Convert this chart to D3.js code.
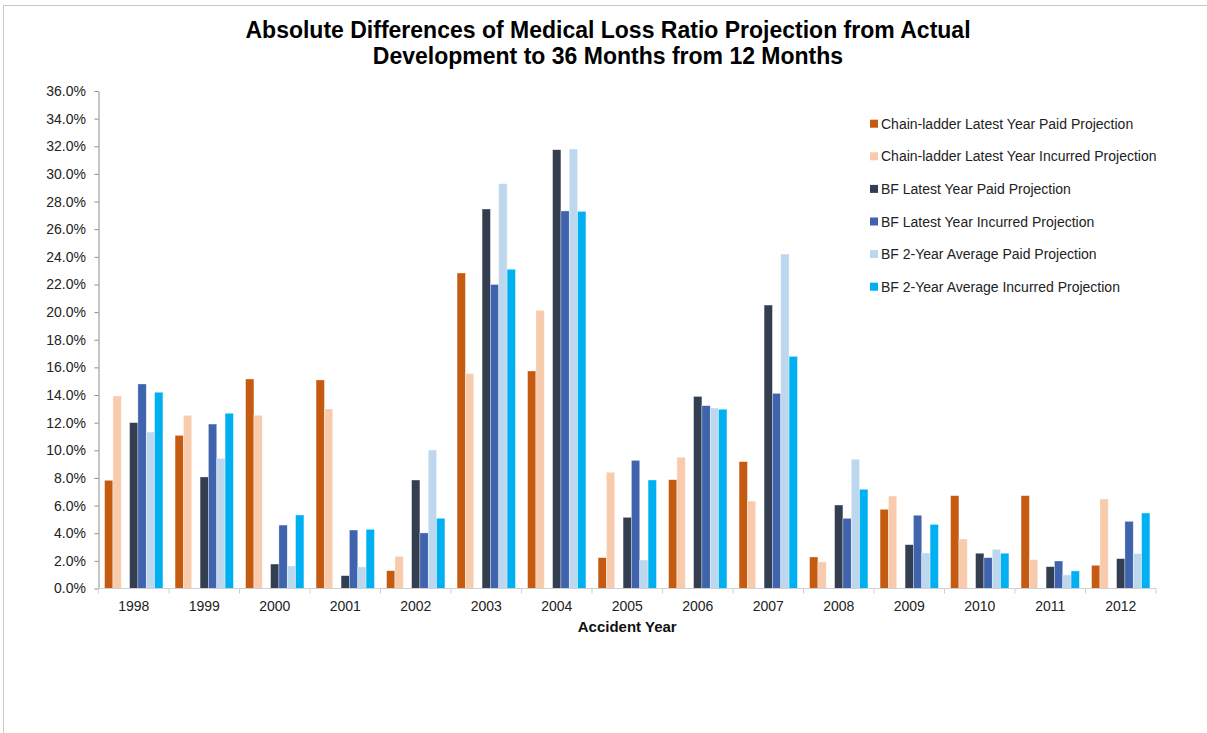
<!DOCTYPE html>
<html>
<head>
<meta charset="utf-8">
<script src="https://cdn.jsdelivr.net/npm/d3@7/dist/d3.min.js"></script>
<style>
  html, body { margin: 0; padding: 0; background: #fff; }
  svg { display: block; font-family: "Liberation Sans", Arial, sans-serif; }
</style>
</head>
<body>
<svg id="chart" width="1207" height="733"></svg>
<script>
// Accident years on the category axis
const years = ["1998","1999","2000","2001","2002","2003","2004","2005","2006","2007","2008","2009","2010","2011","2012"];

// Absolute differences (in %) for each projection method
const clPaid     = [7.83, 11.08, 15.16, 15.09, 1.29, 22.83, 15.74, 2.23, 7.87, 9.18, 2.28, 5.73, 6.72, 6.72, 1.68];
const clIncurred = [13.93, 12.53, 12.53, 12.99, 2.33, 15.55, 20.13, 8.41, 9.49, 6.33, 1.92, 6.69, 3.58, 2.09, 6.48];
const bfPaid     = [12.0, 8.07, 1.77, 0.93, 7.85, 27.46, 31.75, 5.15, 13.9, 20.51, 6.04, 3.17, 2.55, 1.58, 2.16];
const bfIncurred = [14.8, 11.9, 4.59, 4.23, 4.02, 22.0, 27.32, 9.27, 13.23, 14.12, 5.08, 5.3, 2.23, 1.99, 4.86];
const bf2Paid    = [11.32, 9.42, 1.63, 1.56, 10.02, 29.29, 31.8, 2.06, 13.06, 24.2, 9.35, 2.57, 2.84, 0.98, 2.52];
const bf2Incurred= [14.2, 12.68, 5.32, 4.28, 5.08, 23.1, 27.29, 7.85, 12.97, 16.8, 7.18, 4.64, 2.55, 1.27, 5.46];

// Y-axis tick values (percent)
const yTicks = [0,2,4,6,8,10,12,14,16,18,20,22,24,26,28,30,32,34,36];

const seriesNames = [
  "Chain-ladder Latest Year Paid Projection",
  "Chain-ladder Latest Year Incurred Projection",
  "BF Latest Year Paid Projection",
  "BF Latest Year Incurred Projection",
  "BF 2-Year Average Paid Projection",
  "BF 2-Year Average Incurred Projection"
];
const seriesValues = [clPaid, clIncurred, bfPaid, bfIncurred, bf2Paid, bf2Incurred];
const seriesColors = ["#C55A11", "#F8CBAD", "#333F50", "#3F64AD", "#BDD7EE", "#00B0F0"];
// Slot order within each year group; the empty slot separates chain-ladder from BF bars
const slots = ["s0", "s1", "gap", "s2", "s3", "s4", "s5"];

const svg = d3.select("#chart");

// Outer frame
svg.append("line").attr("x1", 3.5).attr("x2", 1207).attr("y1", 5.5).attr("y2", 5.5)
  .attr("stroke", "#c8c8c8").attr("stroke-width", 1);
svg.append("line").attr("x1", 3.5).attr("x2", 3.5).attr("y1", 5.5).attr("y2", 733)
  .attr("stroke", "#c8c8c8").attr("stroke-width", 1);

// Title
const title = svg.append("text").attr("text-anchor", "middle")
  .attr("font-size", 23).attr("font-weight", "bold").attr("fill", "#000");
title.append("tspan").attr("x", 608).attr("y", 38).text("Absolute Differences of Medical Loss Ratio Projection from Actual");
title.append("tspan").attr("x", 608).attr("y", 64).text("Development to 36 Months from 12 Months");

const plotLeft = 98.5, plotRight = 1156, plotTop = 91, plotBottom = 588.5;

const x0 = d3.scaleBand().domain(years).range([plotLeft, plotRight]).paddingInner(0).paddingOuter(0);
const x1 = d3.scaleBand().domain(slots).range([0, x0.bandwidth()]).paddingInner(0).paddingOuter(0.73);
const y = d3.scaleLinear().domain([0, 36]).range([plotBottom, plotTop]);

// Bars
seriesValues.forEach((vals, si) => {
  const slot = "s" + si;
  svg.append("g").selectAll("rect")
    .data(vals.map((v, i) => ({ year: years[i], v })))
    .join("rect")
    .attr("x", d => x0(d.year) + x1(slot))
    .attr("y", d => y(d.v))
    .attr("width", x1.bandwidth())
    .attr("height", d => plotBottom - y(d.v))
    .attr("fill", seriesColors[si])
    .attr("stroke", "rgba(255,255,255,0.55)")
    .attr("stroke-width", 0.6);
});

// Y axis
const yAxis = d3.axisLeft(y).tickValues(yTicks).tickSize(4).tickSizeOuter(0)
  .tickFormat(d => d3.format(".1f")(d) + "%");
const gy = svg.append("g").attr("transform", `translate(${plotLeft},0)`).call(yAxis);
gy.select(".domain").attr("stroke", "#8c8c8c");
gy.selectAll(".tick line").attr("stroke", "#8c8c8c");
gy.selectAll(".tick text").attr("font-size", 14).attr("fill", "#222")
  .attr("font-family", "Liberation Sans, Arial, sans-serif").attr("x", -12.5);

// X axis baseline with tick marks at category boundaries
svg.append("line").attr("x1", plotLeft).attr("x2", plotRight).attr("y1", plotBottom).attr("y2", plotBottom)
  .attr("stroke", "#d0d0d0").attr("stroke-width", 1);
const boundaries = years.map(yr => x0(yr)).concat([plotRight]);
svg.append("g").selectAll("line").data(boundaries).join("line")
  .attr("x1", d => d).attr("x2", d => d).attr("y1", plotBottom).attr("y2", plotBottom + 5)
  .attr("stroke", "#d0d0d0");
svg.append("g").selectAll("text").data(years).join("text")
  .attr("x", d => x0(d) + x0.bandwidth() / 2)
  .attr("y", 610.5)
  .attr("text-anchor", "middle")
  .attr("font-size", 14).attr("fill", "#222")
  .text(d => d);

// X axis title
svg.append("text").attr("x", (plotLeft + plotRight) / 2).attr("y", 631.5)
  .attr("text-anchor", "middle").attr("font-size", 15).attr("font-weight", "bold")
  .attr("fill", "#111").text("Accident Year");

// Legend
const legend = svg.append("g").selectAll("g").data(seriesNames).join("g")
  .attr("transform", (d, i) => `translate(870, ${123.7 + i * 32.6})`);
legend.append("rect").attr("x", 0).attr("y", -4).attr("width", 8).attr("height", 8)
  .attr("fill", (d, i) => seriesColors[i]);
legend.append("text").attr("x", 11).attr("y", 5)
  .attr("font-size", 14).attr("fill", "#222").text(d => d);
</script>
</body>
</html>
